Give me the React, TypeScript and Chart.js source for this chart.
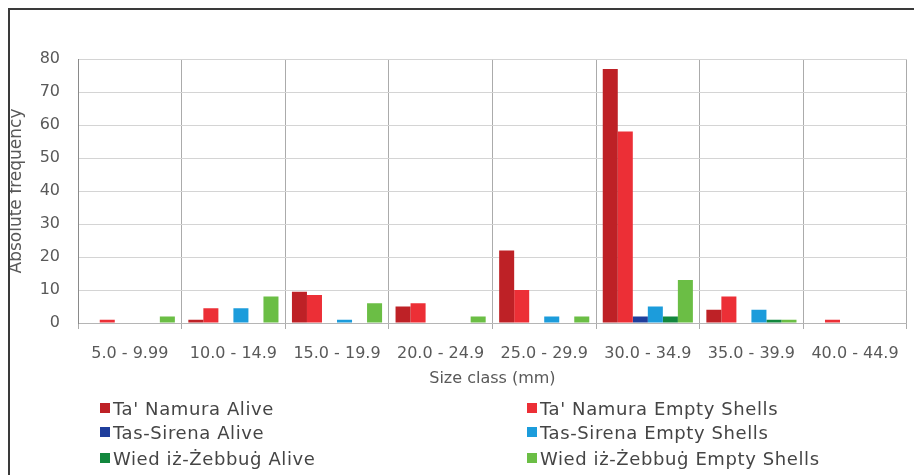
import React, { useEffect, useRef } from "react";
import { Chart, registerables } from "chart.js";

Chart.register(...registerables);

const categories = [
  "5.0 - 9.99",
  "10.0 - 14.9",
  "15.0 - 19.9",
  "20.0 - 24.9",
  "25.0 - 29.9",
  "30.0 - 34.9",
  "35.0 - 39.9",
  "40.0 - 44.9",
];

const taNamuraAlive = [0, 1, 9.5, 5, 22, 77, 4, 0];
const taNamuraEmpty = [1, 4.5, 8.5, 6, 10, 58, 8, 1];
const tasSirenaAlive = [0, 0, 0, 0, 0, 2, 0, 0];
const tasSirenaEmpty = [0, 4.5, 1, 0, 2, 5, 4, 0];
const wiedAlive = [0, 0, 0, 0, 0, 2, 1, 0];
const wiedEmpty = [2, 8, 6, 2, 2, 13, 1, 0];

const seriesNames = [
  "Ta' Namura Alive",
  "Ta' Namura Empty Shells",
  "Tas-Sirena Alive",
  "Tas-Sirena Empty Shells",
  "Wied iż-Żebbuġ Alive",
  "Wied iż-Żebbuġ Empty Shells",
];
const seriesValues = [taNamuraAlive, taNamuraEmpty, tasSirenaAlive, tasSirenaEmpty, wiedAlive, wiedEmpty];
const seriesColors = ["#BE2126", "#EC2F36", "#1F3E9C", "#1C9CDB", "#12873D", "#6BBE45"];

const yMin = 0;
const yMax = 80;
const yStep = 10;

const yTitle = "Absolute frequency";
const xTitle = "Size class (mm)";

const FONT = "'DejaVu Sans', sans-serif";
const TEXT = "#595959";

export default function App() {
  const ref = useRef<HTMLCanvasElement | null>(null);

  useEffect(() => {
    if (!ref.current) return;
    const chart = new Chart(ref.current, {
      type: "bar",
      data: {
        labels: categories,
        datasets: seriesNames.map((name, i) => ({
          label: name,
          data: seriesValues[i],
          backgroundColor: seriesColors[i],
          borderWidth: 0,
          categoryPercentage: 0.87,
          barPercentage: 1.0,
        })),
      },
      options: {
        responsive: false,
        animation: false,
        events: [],
        layout: { padding: { top: 51, right: 6, bottom: 10, left: 0 } },
        plugins: {
          legend: { display: false },
          tooltip: { enabled: false },
        },
        scales: {
          x: {
            grid: {
              display: true,
              offset: true,
              color: "#ababab",
              lineWidth: 1,
              drawTicks: true,
              tickLength: 6,
            },
            border: { display: true, color: "#b5b5b5" },
            ticks: {
              color: TEXT,
              font: { family: FONT, size: 16 },
              padding: 15,
              maxRotation: 0,
              autoSkip: false,
            },
            title: {
              display: true,
              text: xTitle,
              color: TEXT,
              font: { family: FONT, size: 16 },
              padding: { top: 0, bottom: 0 },
            },
            afterFit: (scale: any) => {
              scale.height = 65;
            },
          },
          y: {
            min: yMin,
            max: yMax,
            ticks: {
              stepSize: yStep,
              color: TEXT,
              font: { family: FONT, size: 16 },
              padding: 18,
            },
            grid: {
              color: "#d4d4d4",
              lineWidth: 1,
              drawTicks: false,
            },
            border: { display: true, color: "#8a8a8a" },
            title: {
              display: true,
              text: yTitle,
              color: TEXT,
              font: { family: FONT, size: 17, lineHeight: 1 },
              padding: { top: 0, bottom: 0 },
            },
            afterFit: (scale: any) => {
              scale.width = 70;
            },
          },
        },
      },
    });
    return () => chart.destroy();
  }, []);

  const rowTops = [400, 424, 450];
  const colLefts = [92, 519];

  return (
    <div style={{ position: "fixed", left: 8, top: 8, width: 906, height: 467, overflow: "hidden", background: "#fff" }}>
      <canvas ref={ref} width={906} height={390} style={{ position: "absolute", left: 0, top: 0, width: 906, height: 390 }} />
      <div
        style={{
          position: "absolute",
          left: 0,
          top: 0,
          width: 920,
          height: 480,
          borderTop: "2px solid #3a3a3a",
          borderLeft: "2px solid #3a3a3a",
          pointerEvents: "none",
        }}
      />
      {seriesNames.map((name, i) => {
        const row = Math.floor(i / 2);
        const col = i % 2;
        return (
          <div
            key={name}
            style={{
              position: "absolute",
              left: colLefts[col],
              top: rowTops[row] - 11,
              height: 22,
              display: "flex",
              alignItems: "center",
              fontFamily: FONT,
              fontSize: 18,
              letterSpacing: "0.6px",
              color: "#454545",
              whiteSpace: "nowrap",
            }}
          >
            <span style={{ display: "inline-block", width: 10, height: 10, background: seriesColors[i], marginRight: 3 }} />
            <span>{name}</span>
          </div>
        );
      })}
    </div>
  );
}
